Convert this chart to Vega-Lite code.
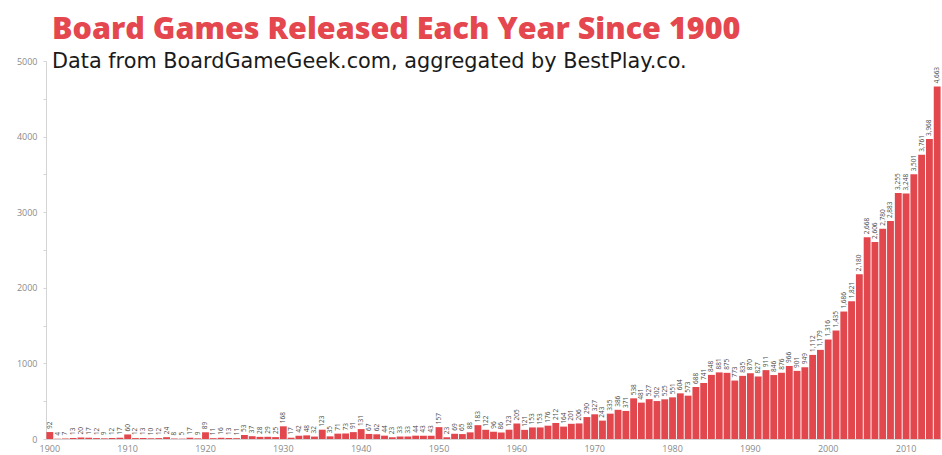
{
  "$schema": "https://vega.github.io/schema/vega-lite/v6.json",
  "width": 895,
  "height": 378,
  "autosize": {"type": "none"},
  "padding": {"left": 46, "top": 61, "right": 1, "bottom": 16},
  "background": "white",
  "title": {
    "text": "Board Games Released Each Year Since 1900",
    "subtitle": "Data from BoardGameGeek.com, aggregated by BestPlay.co.",
    "anchor": "start",
    "frame": "group",
    "orient": "top",
    "dx": 6,
    "offset": -15,
    "font": "Open Sans",
    "fontSize": 30.5,
    "fontWeight": 800,
    "color": "#e5474f",
    "subtitleFont": "DejaVu Sans",
    "subtitleFontSize": 20.8,
    "subtitleFontWeight": "normal",
    "subtitleColor": "#1a1a1a",
    "subtitlePadding": 7
  },
  "config": {"view": {"stroke": null}},
  "data": {
    "values": [
      {"year": 1900, "games": 92}, {"year": 1901, "games": 4}, {"year": 1902, "games": 7}, {"year": 1903, "games": 13}, {"year": 1904, "games": 20},
      {"year": 1905, "games": 17}, {"year": 1906, "games": 12}, {"year": 1907, "games": 9}, {"year": 1908, "games": 12}, {"year": 1909, "games": 17},
      {"year": 1910, "games": 60}, {"year": 1911, "games": 12}, {"year": 1912, "games": 13}, {"year": 1913, "games": 10}, {"year": 1914, "games": 12},
      {"year": 1915, "games": 24}, {"year": 1916, "games": 8}, {"year": 1917, "games": 5}, {"year": 1918, "games": 17}, {"year": 1919, "games": 9},
      {"year": 1920, "games": 89}, {"year": 1921, "games": 11}, {"year": 1922, "games": 16}, {"year": 1923, "games": 13}, {"year": 1924, "games": 11},
      {"year": 1925, "games": 53}, {"year": 1926, "games": 37}, {"year": 1927, "games": 28}, {"year": 1928, "games": 29}, {"year": 1929, "games": 25},
      {"year": 1930, "games": 168}, {"year": 1931, "games": 17}, {"year": 1932, "games": 42}, {"year": 1933, "games": 48}, {"year": 1934, "games": 32},
      {"year": 1935, "games": 123}, {"year": 1936, "games": 35}, {"year": 1937, "games": 71}, {"year": 1938, "games": 73}, {"year": 1939, "games": 91},
      {"year": 1940, "games": 131}, {"year": 1941, "games": 67}, {"year": 1942, "games": 62}, {"year": 1943, "games": 44}, {"year": 1944, "games": 23},
      {"year": 1945, "games": 33}, {"year": 1946, "games": 33}, {"year": 1947, "games": 44}, {"year": 1948, "games": 43}, {"year": 1949, "games": 43},
      {"year": 1950, "games": 157}, {"year": 1951, "games": 23}, {"year": 1952, "games": 69}, {"year": 1953, "games": 65}, {"year": 1954, "games": 88},
      {"year": 1955, "games": 183}, {"year": 1956, "games": 122}, {"year": 1957, "games": 96}, {"year": 1958, "games": 86}, {"year": 1959, "games": 123},
      {"year": 1960, "games": 205}, {"year": 1961, "games": 121}, {"year": 1962, "games": 153}, {"year": 1963, "games": 153}, {"year": 1964, "games": 176},
      {"year": 1965, "games": 212}, {"year": 1966, "games": 164}, {"year": 1967, "games": 201}, {"year": 1968, "games": 206}, {"year": 1969, "games": 290},
      {"year": 1970, "games": 327}, {"year": 1971, "games": 243}, {"year": 1972, "games": 335}, {"year": 1973, "games": 386}, {"year": 1974, "games": 371},
      {"year": 1975, "games": 538}, {"year": 1976, "games": 481}, {"year": 1977, "games": 527}, {"year": 1978, "games": 502}, {"year": 1979, "games": 525},
      {"year": 1980, "games": 551}, {"year": 1981, "games": 604}, {"year": 1982, "games": 573}, {"year": 1983, "games": 688}, {"year": 1984, "games": 741},
      {"year": 1985, "games": 848}, {"year": 1986, "games": 881}, {"year": 1987, "games": 875}, {"year": 1988, "games": 773}, {"year": 1989, "games": 835},
      {"year": 1990, "games": 870}, {"year": 1991, "games": 827}, {"year": 1992, "games": 911}, {"year": 1993, "games": 846}, {"year": 1994, "games": 876},
      {"year": 1995, "games": 966}, {"year": 1996, "games": 901}, {"year": 1997, "games": 949}, {"year": 1998, "games": 1112}, {"year": 1999, "games": 1179},
      {"year": 2000, "games": 1316}, {"year": 2001, "games": 1435}, {"year": 2002, "games": 1686}, {"year": 2003, "games": 1821}, {"year": 2004, "games": 2180},
      {"year": 2005, "games": 2668}, {"year": 2006, "games": 2606}, {"year": 2007, "games": 2780}, {"year": 2008, "games": 2883}, {"year": 2009, "games": 3255},
      {"year": 2010, "games": 3248}, {"year": 2011, "games": 3501}, {"year": 2012, "games": 3761}, {"year": 2013, "games": 3968}, {"year": 2014, "games": 4663}
    ]
  },
  "encoding": {
    "x": {
      "field": "year",
      "type": "ordinal",
      "scale": {"paddingInner": 0.12, "paddingOuter": 0.05},
      "axis": {
        "title": null,
        "labelAngle": 0,
        "labelExpr": "datum.value % 10 === 0 ? datum.value : ''",
        "ticks": false,
        "labelFont": "Open Sans",
        "labelFontSize": 9,
        "labelColor": "#8a8a8a",
        "labelPadding": 5,
        "domainColor": "#d4d4d4",
        "domainWidth": 1
      }
    },
    "y": {
      "field": "games",
      "type": "quantitative",
      "scale": {"domain": [0, 5000], "nice": false},
      "axis": {
        "title": null,
        "grid": false,
        "values": [0, 500, 1000, 1500, 2000, 2500, 3000, 3500, 4000, 4500, 5000],
        "labelExpr": "datum.value % 1000 === 0 ? datum.value : ''",
        "labelFont": "Open Sans",
        "labelFontSize": 9,
        "labelColor": "#8a8a8a",
        "tickSize": 3,
        "tickColor": "#d4d4d4",
        "labelPadding": 6,
        "domainColor": "#d4d4d4"
      }
    }
  },
  "layer": [
    {"mark": {"type": "bar", "color": "#e2474d"}},
    {
      "mark": {
        "type": "text",
        "angle": 270,
        "align": "left",
        "baseline": "middle",
        "dx": 3,
        "font": "Open Sans",
        "fontSize": 6.5,
        "color": "#4a4a4a"
      },
      "encoding": {"text": {"field": "games", "type": "quantitative", "format": ","}}
    }
  ]
}
